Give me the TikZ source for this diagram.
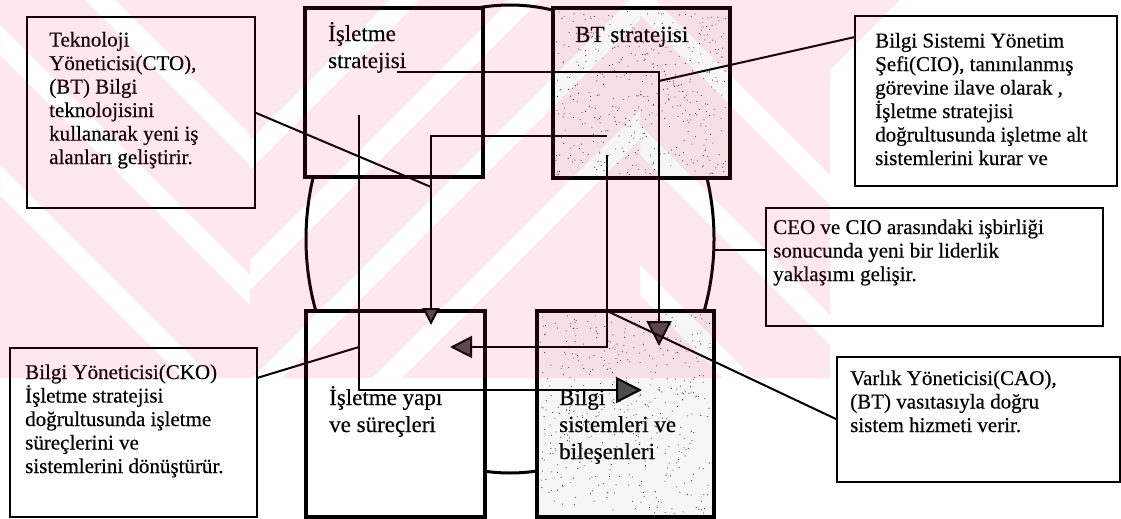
\documentclass[tikz,border=0pt]{standalone}
\usepackage{fontspec}
\setmainfont{Liberation Serif}[FakeBold=0.4]
\usepackage{xcolor}
\usetikzlibrary{positioning,calc,shapes.geometric,arrows.meta}
\definecolor{TezPink}{RGB}{240,40,80}
\definecolor{StipGray}{RGB}{246,246,246}

\begin{document}
\begin{tikzpicture}[
        x=1pt, y=-1pt,
        % --- KUTULAR ---
        common/.style={rectangle, draw=black, inner sep=0pt, outer sep=0pt, anchor=north west},
        main_box/.style={common, line width=3.5pt, fill=white},
        dotted_box/.style={common, line width=3.5pt, fill=StipGray},
        note_box/.style={common, line width=2pt, fill=white},
        % --- YAZILAR (son satırın taban çizgisine göre) ---
        main_text/.style={anchor=base west, align=left, inner sep=0pt,
            font=\fontsize{23}{27}\selectfont},
        note_text/.style={anchor=base west, align=left, inner sep=0pt,
            font=\fontsize{21}{23.5}\selectfont},
        % --- ÇİZGİLER ---
        link/.style={line width=2pt},
        flow/.style={line width=2pt, -{Triangle[width=#1, length=#1, fill=black!70]}}
    ]
    \useasboundingbox (0,0) rectangle (1121,519);

    % --- DÖNGÜ (ELİPS) ---
    \node[ellipse, draw, line width=3pt, inner sep=0pt, outer sep=0pt,
        minimum width=408pt, minimum height=468pt] (cycle) at (510,239) {};

    % --- ANA KUTULAR ---
    \node[main_box, minimum width=178pt, minimum height=169pt] (strat) at (305,8) {};
    \node[dotted_box, minimum width=177pt, minimum height=170pt] (btstrat) at (553,8) {};
    \node[main_box, minimum width=179pt, minimum height=206pt] (yapi) at (306,311) {};
    \node[dotted_box, minimum width=177pt, minimum height=206pt] (bilsis) at (537,311) {};

    % noktalı doku
    \pgfmathsetseed{11}
    \foreach \k in {1,...,450} {
        \fill[black!80] ($(btstrat.north west)+(3+rnd*171,3+rnd*164)$) circle (0.55pt);
        \fill[black!80] ($(bilsis.north west)+(3+rnd*171,3+rnd*200)$) circle (0.55pt);
    }

    \node[main_text] (strat_t) at (328,68) {İşletme\\stratejisi};
    \node[main_text] (btstrat_t) at (575,42) {BT stratejisi};
    \node[main_text] (yapi_t) at (329,432) {İşletme yapı\\ve süreçleri};
    \node[main_text] (bilsis_t) at (559,459) {Bilgi\\sistemleri ve\\bileşenleri};

    % --- AÇIKLAMA KUTULARI ---
    \node[note_box, minimum width=228pt, minimum height=191pt] (cto) at (27,17) {};
    \node[note_box, minimum width=262pt, minimum height=170pt] (cio) at (855,16) {};
    \node[note_box, minimum width=337pt, minimum height=118pt] (ceo) at (766,208) {};
    \node[note_box, minimum width=283pt, minimum height=125pt] (cao) at (837,357) {};
    \node[note_box, minimum width=247pt, minimum height=169pt] (cko) at (10,348) {};

    \node[note_text] (cto_t) at (49,164) {Teknoloji\\Yöneticisi(CTO),\\(BT) Bilgi\\teknolojisini\\kullanarak yeni iş\\alanları geliştirir.};
    \node[note_text] (cio_t) at (875,165) {Bilgi Sistemi Yönetim\\Şefi(CIO), tanınılanmış\\görevine ilave olarak ,\\İşletme stratejisi\\doğrultusunda işletme alt\\sistemlerini kurar ve};
    \node[note_text] (ceo_t) at (773,281) {CEO ve CIO arasındaki işbirliği\\sonucunda yeni bir liderlik\\yaklaşımı gelişir.};
    \node[note_text] (cao_t) at (850,432) {Varlık Yöneticisi(CAO),\\(BT) vasıtasıyla doğru\\sistem hizmeti verir.};
    \node[note_text] (cko_t) at (25,473) {Bilgi Yöneticisi(CKO)\\İşletme stratejisi\\doğrultusunda işletme\\süreçlerini ve\\sistemlerini dönüştürür.};

    % --- AKIŞ OKLARI ---
    \coordinate (sA) at (397,72);  \coordinate (tA) at (659,346);
    \coordinate (sB) at (607,136); \coordinate (tB) at (431,325);
    \coordinate (sC) at (359,115); \coordinate (tC) at (642,390);
    \coordinate (sD) at (607,155); \coordinate (tD) at (450,347);

    \draw[flow=25pt] (sA) -| (tA);
    \draw[flow=17pt] (sB) -| (tB);
    \draw[flow=26pt] (sC) |- (tC);
    \draw[flow=22pt] (sD) |- (tD);

    % --- AÇIKLAMA ÇİZGİLERİ ---
    \coordinate (onB) at (431,187);
    \coordinate (onA) at (659,81);
    \coordinate (onC) at (359,347);
    \draw[link] (cto.east) -- (onB);
    \draw[link] ($(cio.north west)+(0,21)$) -- (onA);
    \draw[link] ($(cko.north east)+(0,30)$) -- (onC);
    \draw[link] (sD |- bilsis.north) -- (cao.west);
    \draw[link] (cycle.-3) -- (cycle.-3 -| ceo.west);

    % --- FİLİGRAN (açık pembe, beyaz çapraz bantlı) ---
    \begin{scope}
        \clip (0,0) -- (900,0) -- (830,70) -- (830,378) -- (0,378) -- cycle;
        \fill[TezPink, fill opacity=0.1, even odd rule]
            (0,0) rectangle (900,378)
            % sağa yatık bantlar
            \foreach \c in {390,510,630,750} {
                (250,\c-250) -- (640,\c-640) -- (640,\c+30-640) -- (250,\c+30-250) -- cycle
            }
            % sola yatık bantlar
            \foreach \c in {345,485,625} {
                (640,640-\c) -- (900,900-\c) -- (900,900-\c-30) -- (640,640-\c-30) -- cycle
            }
            \foreach \c in {85,-55,-195} {
                (0,0-\c) -- (250,250-\c) -- (250,250-\c-30) -- (0,0-\c-30) -- cycle
            };
    \end{scope}
\end{tikzpicture}
\end{document}
